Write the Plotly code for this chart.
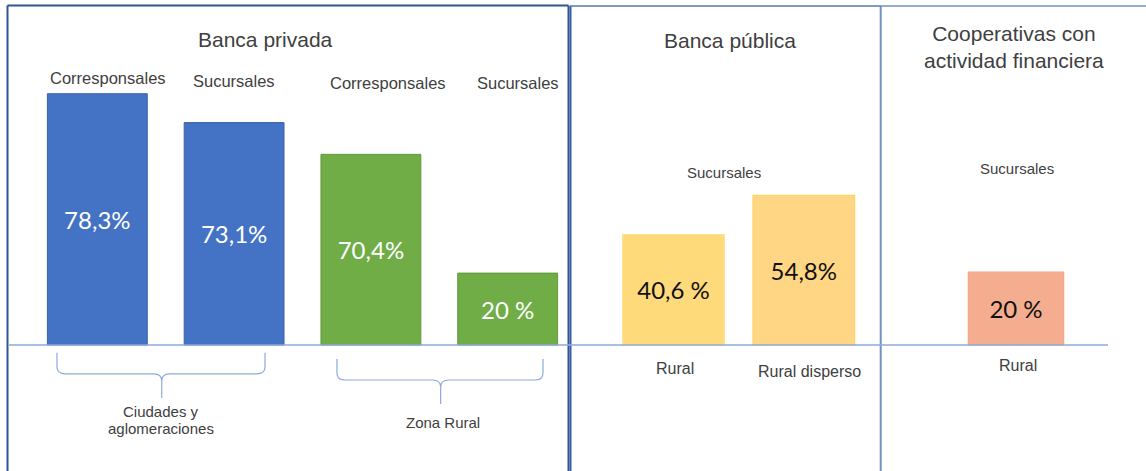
import plotly.graph_objects as go

W, H = 1146, 471

# ---------------- Data ----------------
# Banca privada
priv_categories = ["Corresponsales · Ciudades", "Sucursales · Ciudades",
                   "Corresponsales · Rural", "Sucursales · Rural"]
priv_top_labels = ["Corresponsales", "Sucursales", "Corresponsales", "Sucursales"]
priv_values = [78.3, 73.1, 70.4, 20.0]
priv_value_text = ["78,3%", "73,1%", "70,4%", "20 %"]
priv_bar_heights = [78.3, 69.3, 59.4, 22.4]      # heights as drawn in the original
priv_groups = ["Ciudades y<br>aglomeraciones", "Zona Rural"]

# Banca pública
pub_categories = ["Rural", "Rural disperso"]
pub_values = [40.6, 54.8]
pub_value_text = ["40,6 %", "54,8%"]
pub_bar_heights = [34.4, 46.6]

# Cooperativas con actividad financiera
coop_categories = ["Rural"]
coop_values = [20.0]
coop_value_text = ["20 %"]
coop_bar_heights = [22.7]

panel_titles = ["Banca privada", "Banca pública", "Cooperativas con<br>actividad financiera"]

# ---------------- Styling helpers ----------------
LABEL_FONT = "Liberation Sans, Arial, sans-serif"
VALUE_FONT = "Lato, Open Sans, sans-serif"
GREY = "#404040"
BORDER_DARK = "#2F5597"
BORDER_LIGHT = "#7390C6"
BASE_BLUE = "#8EAADB"


def px(x):
    return x / W


def py(y):
    return 1 - y / H


Y_RANGE = [-39.26, 107.5]

fig = go.Figure()

fig.add_trace(go.Bar(
    x=priv_categories, y=priv_bar_heights, customdata=priv_values,
    text=priv_value_text, textposition="inside", insidetextanchor="middle",
    textangle=0, constraintext="none",
    textfont=dict(family=VALUE_FONT, size=24, color="white"),
    marker=dict(color=["#4472C4", "#4472C4", "#70AD47", "#70AD47"],
                line=dict(color=["#3A62AC", "#3A62AC", "#5E9A3A", "#5E9A3A"], width=1)),
    width=0.73, xaxis="x", yaxis="y", hoverinfo="skip", showlegend=False))

fig.add_trace(go.Bar(
    x=pub_categories, y=pub_bar_heights, customdata=pub_values,
    text=pub_value_text, textposition="inside", insidetextanchor="middle",
    textangle=0, constraintext="none",
    textfont=dict(family=VALUE_FONT, size=24, color="#111111"),
    marker=dict(color=["#FFDA7B", "#FFD684"],
                line=dict(color=["#FFE08C", "#FFD45E"], width=1.2)),
    width=0.78, xaxis="x2", yaxis="y2", hoverinfo="skip", showlegend=False))

fig.add_trace(go.Bar(
    x=coop_categories, y=coop_bar_heights, customdata=coop_values,
    text=coop_value_text, textposition="inside", insidetextanchor="middle",
    textangle=0, constraintext="none",
    textfont=dict(family=VALUE_FONT, size=24, color="#111111"),
    marker=dict(color=["#F4AD8F"], line=dict(color=["#F4A880"], width=1.2)),
    width=0.732, xaxis="x3", yaxis="y3", hoverinfo="skip", showlegend=False))

hidden = dict(visible=False, showgrid=False, zeroline=False, fixedrange=True)

fig.update_layout(
    width=W, height=H, margin=dict(l=0, r=0, t=0, b=0),
    paper_bgcolor="white", plot_bgcolor="rgba(0,0,0,0)",
    bargap=0,
    xaxis=dict(domain=[px(8), px(568)], range=[-0.653, 3.441], anchor="y", type="category", **hidden),
    yaxis=dict(domain=[0, 1], range=Y_RANGE, anchor="x", **hidden),
    xaxis2=dict(domain=[px(568), px(880)], range=[-0.81, 1.585], anchor="y2", type="category", **hidden),
    yaxis2=dict(domain=[0, 1], range=Y_RANGE, anchor="x2", **hidden),
    xaxis3=dict(domain=[px(880), 1], range=[-1.044, 0.998], anchor="y3", type="category", **hidden),
    yaxis3=dict(domain=[0, 1], range=Y_RANGE, anchor="x3", **hidden),
)

shapes = []
# panel frames
shapes.append(dict(type="line", xref="paper", yref="paper", x0=px(7.5), x1=px(7.5), y0=py(5.5), y1=py(475),
                   line=dict(color=BORDER_DARK, width=2)))
shapes.append(dict(type="line", xref="paper", yref="paper", x0=px(7.5), x1=px(568.5), y0=py(5.5), y1=py(5.5),
                   line=dict(color=BORDER_DARK, width=2)))
shapes.append(dict(type="line", xref="paper", yref="paper", x0=px(568.5), x1=px(568.5), y0=py(5.5), y1=py(475),
                   line=dict(color=BORDER_DARK, width=2)))
shapes.append(dict(type="line", xref="paper", yref="paper", x0=px(570.5), x1=px(570.5), y0=py(6), y1=py(475),
                   line=dict(color="#3A5DA3", width=2)))
shapes.append(dict(type="line", xref="paper", yref="paper", x0=px(570), x1=px(881), y0=py(6), y1=py(6),
                   line=dict(color="#5677B8", width=1.5)))
shapes.append(dict(type="line", xref="paper", yref="paper", x0=px(880.7), x1=px(880.7), y0=py(6), y1=py(475),
                   line=dict(color=BORDER_LIGHT, width=2)))
shapes.append(dict(type="line", xref="paper", yref="paper", x0=px(880), x1=1, y0=py(6), y1=py(6),
                   line=dict(color=BORDER_LIGHT, width=1.5)))
# baseline
shapes.append(dict(type="line", xref="paper", yref="y", x0=px(8), x1=px(1108), y0=0, y1=0,
                   line=dict(color=BASE_BLUE, width=1.3)))


def brace(x0, x1, xc, ytop, yh, ytip, rx=0.06, ry=2.2):
    return (f"M {x0},{ytop} L {x0},{yh + ry} Q {x0},{yh} {x0 + rx},{yh} "
            f"L {xc - rx},{yh} Q {xc},{yh} {xc},{yh - ry} L {xc},{ytip} "
            f"M {xc},{yh - ry} Q {xc},{yh} {xc + rx},{yh} "
            f"L {x1 - rx},{yh} Q {x1},{yh} {x1},{yh + ry} L {x1},{ytop}")


shapes.append(dict(type="path", xref="x", yref="y", path=brace(-0.295, 1.226, 0.471, -2.4, -9.0, -16.5),
                   line=dict(color=BASE_BLUE, width=1.2)))
shapes.append(dict(type="path", xref="x", yref="y", path=brace(1.752, 3.258, 2.51, -4.4, -10.9, -18.4),
                   line=dict(color=BASE_BLUE, width=1.2)))
fig.update_layout(shapes=shapes)

ann = []
# titles
ann.append(dict(text=panel_titles[0], x=px(265), y=py(40), xref="paper", yref="paper",
                font=dict(family=LABEL_FONT, size=21, color=GREY)))
ann.append(dict(text=panel_titles[1], x=px(729.5), y=py(41), xref="paper", yref="paper",
                font=dict(family=LABEL_FONT, size=21, color=GREY)))
ann.append(dict(text=panel_titles[2], x=px(1013.5), y=py(47), xref="paper", yref="paper",
                font=dict(family=LABEL_FONT, size=21, color=GREY)))

# top labels for banca privada
label_shift = [11, 0, 17, 10]
label_y = [78, 81, 83.5, 83]
for cat, lab, sh, ly in zip(priv_categories, priv_top_labels, label_shift, label_y):
    ann.append(dict(text=lab, x=cat, xref="x", y=py(ly), yref="paper", xshift=sh,
                    font=dict(family=LABEL_FONT, size=16.5, color=GREY)))

# group labels (lines placed individually to match the tight line spacing)
group1_lines = priv_groups[0].split("<br>")
for i, line in enumerate(group1_lines):
    ann.append(dict(text=line, x=0.466, xref="x", y=-20.6 - i * 5.3, yref="y",
                    font=dict(family=LABEL_FONT, size=15, color=GREY)))
ann.append(dict(text=priv_groups[1], x=2.526, xref="x", y=-24.3, yref="y",
                font=dict(family=LABEL_FONT, size=15, color=GREY)))

# banca pública labels
ann.append(dict(text="Sucursales", x=px(724.3), y=py(172.7), xref="paper", yref="paper",
                font=dict(family=LABEL_FONT, size=15, color=GREY)))
for cat, sh, ly in zip(pub_categories, [1, 6], [368.5, 371.5]):
    ann.append(dict(text=cat, x=cat, xref="x2", y=py(ly), yref="paper", xshift=sh,
                    font=dict(family=LABEL_FONT, size=16, color=GREY)))

# cooperativas labels
ann.append(dict(text="Sucursales", x=px(1016.7), y=py(168.3), xref="paper", yref="paper",
                font=dict(family=LABEL_FONT, size=15, color=GREY)))
for cat in coop_categories:
    ann.append(dict(text=cat, x=cat, xref="x3", y=py(365.5), yref="paper", xshift=2,
                    font=dict(family=LABEL_FONT, size=16, color=GREY)))

for a in ann:
    a.setdefault("showarrow", False)
    a.setdefault("xanchor", "center")
    a.setdefault("yanchor", "middle")
fig.update_layout(annotations=ann)

fig.write_html("out.html", config={"displayModeBar": False, "staticPlot": True},
               post_script="document.body.style.margin='0';document.body.style.overflow='hidden';")
